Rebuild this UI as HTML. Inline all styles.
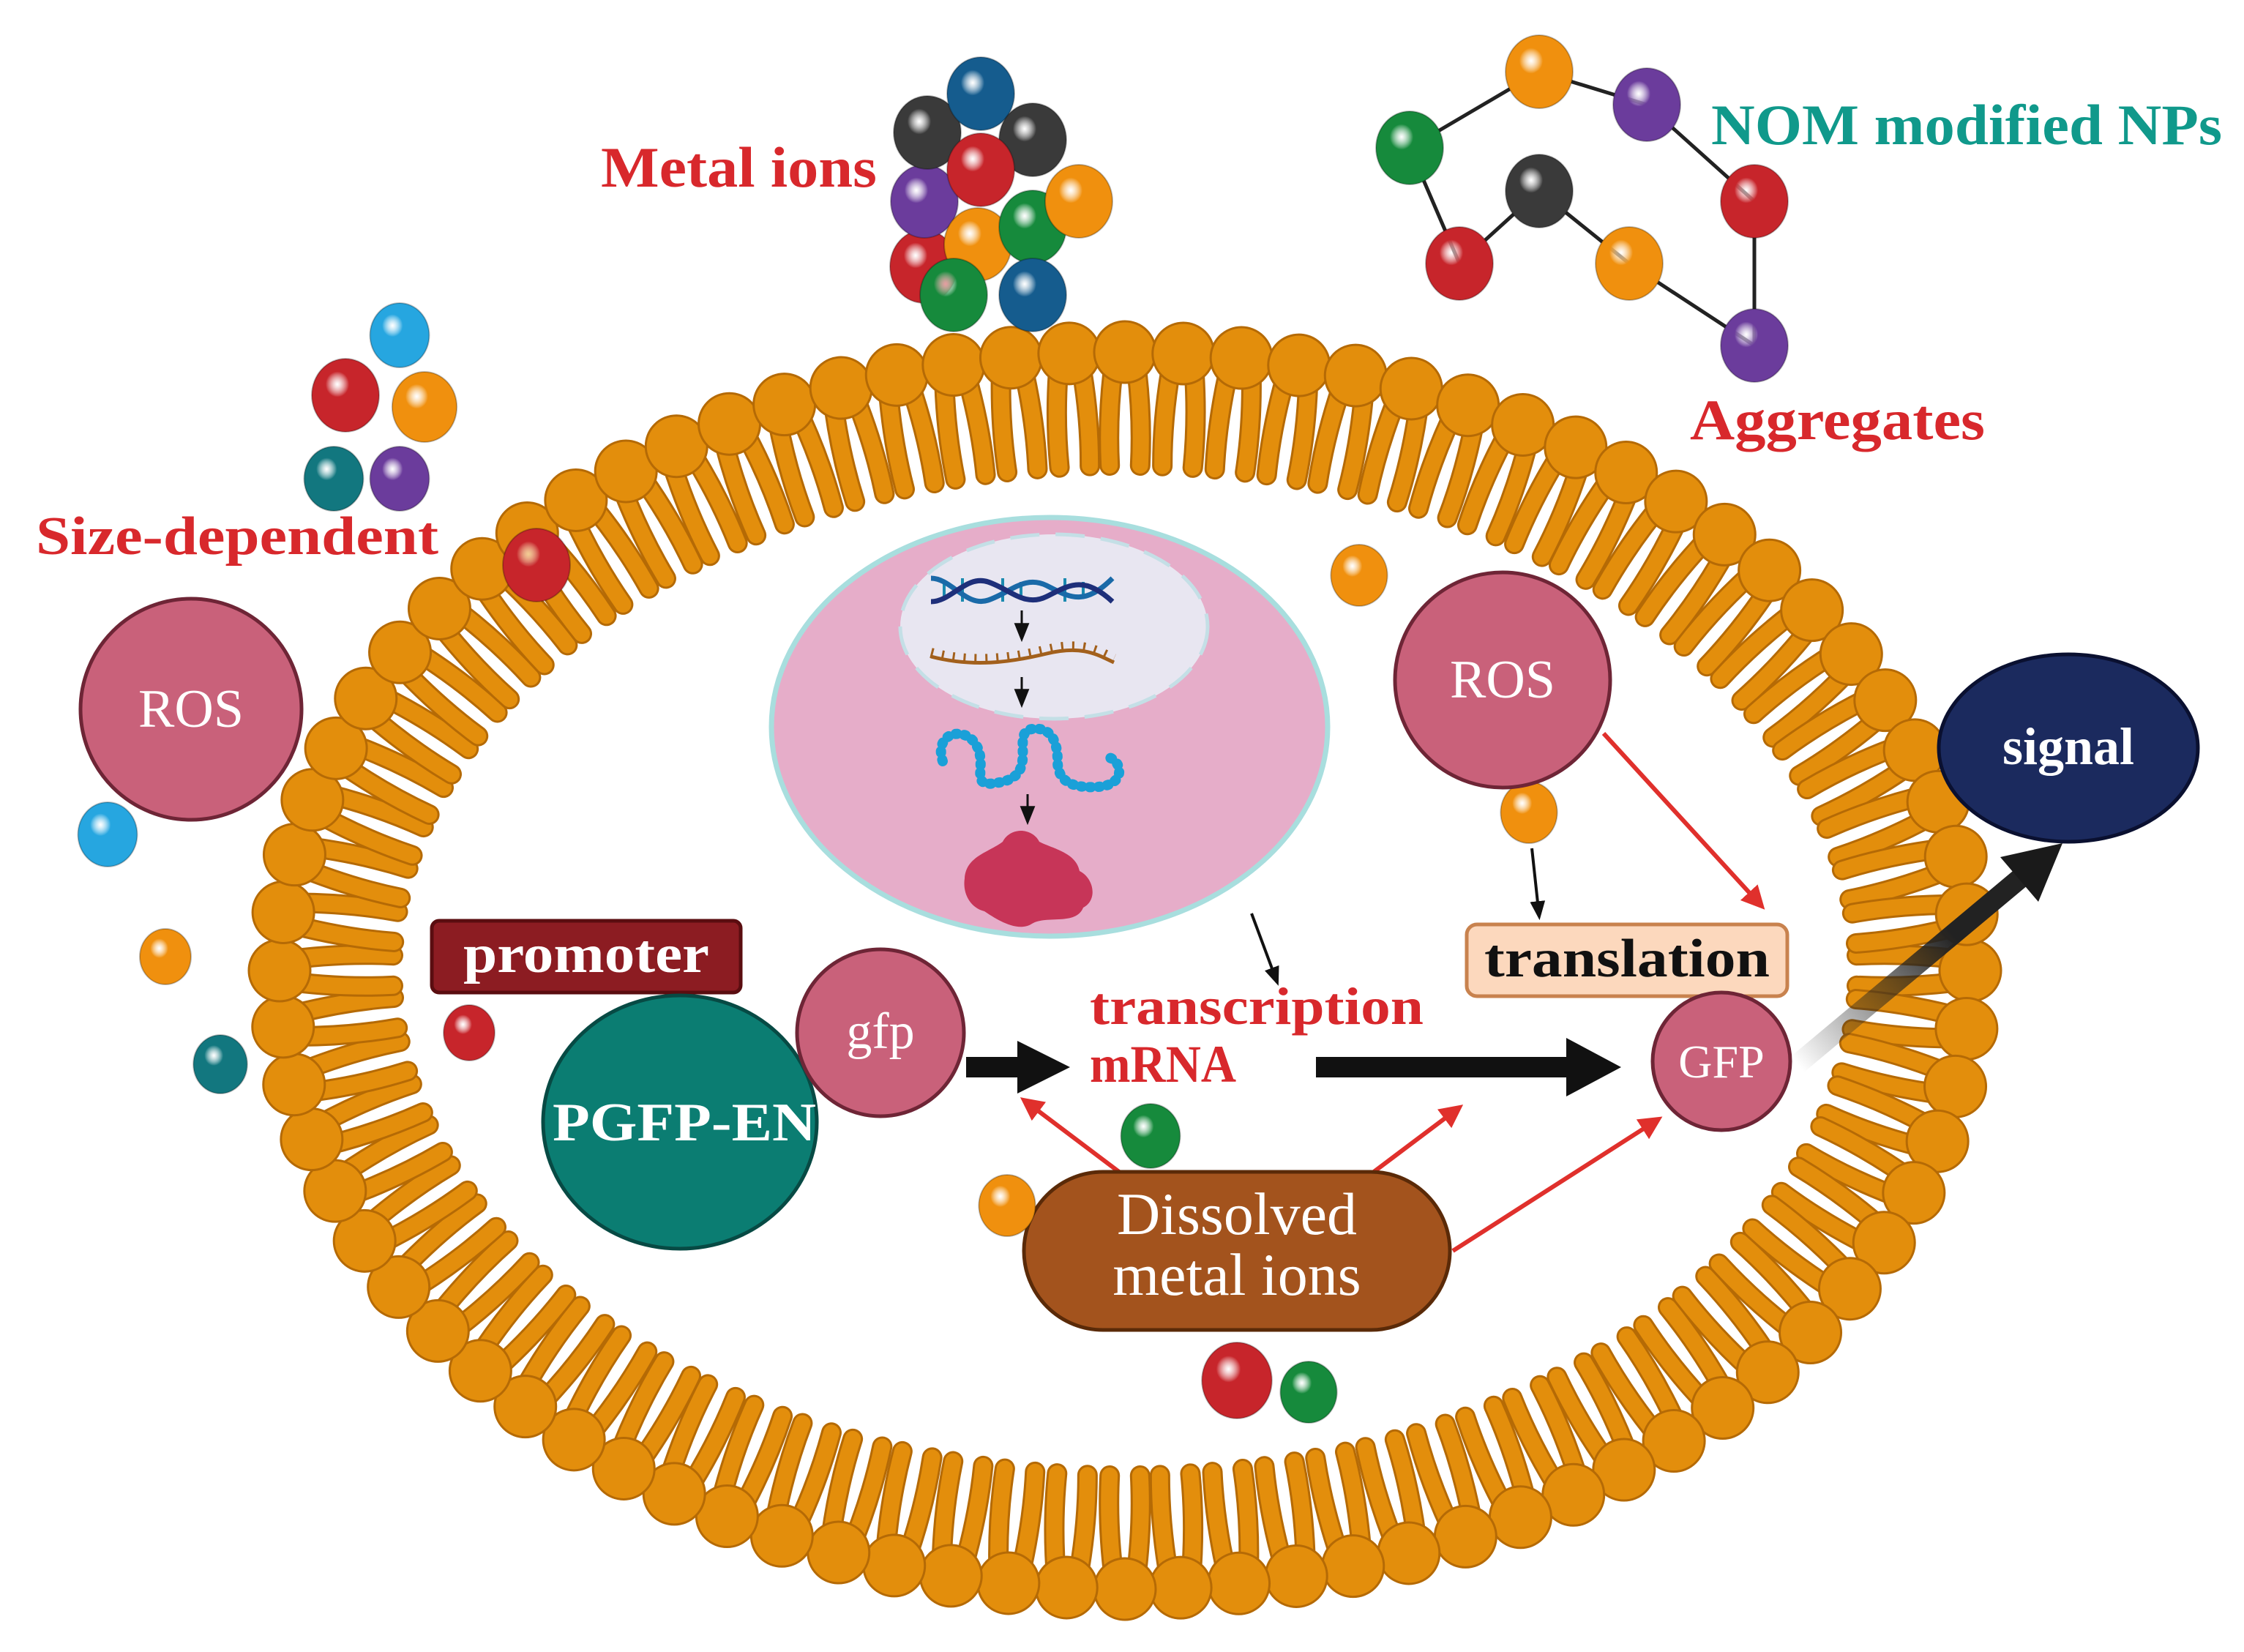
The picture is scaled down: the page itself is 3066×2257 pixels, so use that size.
<!DOCTYPE html>
<html><head><meta charset="utf-8">
<style>
html,body{margin:0;padding:0;background:#fff;}
svg{display:block;}
text{font-family:"Liberation Serif",serif;font-weight:bold;}
</style></head>
<body>
<svg id="s" xmlns="http://www.w3.org/2000/svg" width="3066" height="2257" viewBox="0 0 3066 2257">
<defs>
<marker id="ar" viewBox="0 0 10 10" refX="8" refY="5" markerWidth="32" markerHeight="32" orient="auto" markerUnits="userSpaceOnUse"><path d="M0,0 L10,5 L0,10z" fill="#e0302c"/></marker>
<marker id="ak" viewBox="0 0 10 10" refX="8" refY="5" markerWidth="26" markerHeight="26" orient="auto" markerUnits="userSpaceOnUse"><path d="M0,1 L10,5 L0,9z" fill="#111"/></marker>
<linearGradient id="fade" x1="2456" y1="1454" x2="2810" y2="1159" gradientUnits="userSpaceOnUse"><stop offset="0" stop-color="#222" stop-opacity="0"/><stop offset="0.6" stop-color="#222" stop-opacity="1"/></linearGradient>
</defs>
<g id="lip"></g>
<ellipse cx="1434" cy="993" rx="380" ry="286" fill="#e6adc9" stroke="#a8dede" stroke-width="7"/>
<ellipse cx="1440" cy="856" rx="210" ry="126" fill="#e8e6f1" stroke="#c4dfe6" stroke-width="5" stroke-dasharray="40 22"/>
<g stroke="#1a8ab0" stroke-width="4">
<line x1="1290" y1="795" x2="1290" y2="818"/><line x1="1315" y1="790" x2="1315" y2="822"/><line x1="1370" y1="790" x2="1370" y2="822"/><line x1="1395" y1="795" x2="1395" y2="818"/><line x1="1455" y1="790" x2="1455" y2="822"/><line x1="1480" y1="795" x2="1480" y2="818"/>
</g>
<path d="M1272,790 C1300,790 1320,830 1350,820 S1400,785 1430,800 S1480,830 1520,790" stroke="#1a6aa8" stroke-width="7" fill="none"/>
<path d="M1272,822 C1300,822 1320,785 1350,795 S1400,830 1430,815 S1480,785 1520,822" stroke="#1e2f7a" stroke-width="7" fill="none"/>
<line x1="1396" y1="834" x2="1396" y2="872" stroke="#111" stroke-width="3" marker-end="url(#ak)"/>
<path d="M1272,897 C1330,912 1380,905 1430,893 S1500,895 1522,905" stroke="#a2601c" stroke-width="5" fill="none"/>
<path d="M1272,897 C1330,912 1380,905 1430,893 S1500,895 1522,905" stroke="#a2601c" stroke-width="14" stroke-dasharray="3 12" fill="none" transform="translate(0,-5)"/>
<line x1="1396" y1="925" x2="1396" y2="962" stroke="#111" stroke-width="3" marker-end="url(#ak)"/>
<path d="M1288,1040 C1275,1000 1320,990 1335,1020 S1320,1080 1370,1068 S1380,1000 1410,996 S1445,1020 1445,1040 S1455,1078 1500,1075 S1530,1030 1508,1035" stroke="#1aa0d8" stroke-width="14" stroke-dasharray="2 10" stroke-linecap="round" fill="none"/>
<line x1="1404" y1="1085" x2="1404" y2="1122" stroke="#111" stroke-width="3" marker-end="url(#ak)"/>
<path d="M1318,1200 C1320,1170 1350,1165 1370,1150 C1380,1130 1410,1130 1420,1150 C1440,1160 1470,1165 1475,1190 C1495,1200 1500,1230 1480,1240 C1470,1265 1430,1250 1410,1262 C1390,1275 1360,1255 1345,1245 C1325,1240 1315,1220 1318,1200z" fill="#c73558"/>
<g stroke="#222" stroke-width="5">
<line x1="2103" y1="98" x2="1926" y2="202"/><line x1="2103" y1="98" x2="2250" y2="143"/>
<line x1="2250" y1="143" x2="2397" y2="275"/><line x1="1926" y1="202" x2="1994" y2="360"/>
<line x1="2103" y1="261" x2="1994" y2="360"/><line x1="2103" y1="261" x2="2226" y2="360"/>
<line x1="2397" y1="275" x2="2397" y2="472"/><line x1="2226" y1="360" x2="2397" y2="472"/>
</g>
<g id="sph"></g>
<text x="821" y="255" font-size="78" fill="#d8282c" textLength="377" lengthAdjust="spacingAndGlyphs">Metal ions</text>
<text x="2338" y="197" font-size="78" fill="#10998b" textLength="698" lengthAdjust="spacingAndGlyphs">NOM modified NPs</text>
<text x="2309" y="600" font-size="78" fill="#d8282c" textLength="403" lengthAdjust="spacingAndGlyphs">Aggregates</text>
<text x="49" y="757" font-size="74" fill="#d8282c" textLength="550" lengthAdjust="spacingAndGlyphs">Size-dependent</text>
<circle cx="261" cy="969" r="151" fill="#c9617a" stroke="#6e2536" stroke-width="5"/>
<text x="261" y="993" font-size="74" fill="#fff" text-anchor="middle" style="font-weight:normal">ROS</text>
<circle cx="2053" cy="929" r="147" fill="#c9617a" stroke="#6e2536" stroke-width="5"/>
<text x="2053" y="953" font-size="74" fill="#fff" text-anchor="middle" style="font-weight:normal">ROS</text>
<ellipse cx="2826" cy="1022" rx="177" ry="128" fill="#1b2a5e" stroke="#0a1030" stroke-width="5"/>
<text x="2826" y="1044" font-size="72" fill="#fff" text-anchor="middle">signal</text>
<rect x="2004" y="1263" width="438" height="98" rx="14" fill="#fcd8bd" stroke="#c8824e" stroke-width="5"/>
<text x="2223" y="1334" font-size="74" fill="#111" text-anchor="middle" textLength="390" lengthAdjust="spacingAndGlyphs">translation</text>
<rect x="590" y="1258" width="422" height="98" rx="10" fill="#8c1c22" stroke="#5a0d10" stroke-width="5"/>
<text x="801" y="1328" font-size="74" fill="#fff" text-anchor="middle" textLength="336" lengthAdjust="spacingAndGlyphs">promoter</text>
<ellipse cx="929" cy="1533" rx="187" ry="173" fill="#0b7d72" stroke="#074a44" stroke-width="5"/>
<text x="935" y="1558" font-size="74" fill="#fff" text-anchor="middle" textLength="360" lengthAdjust="spacingAndGlyphs">PGFP-EN</text>
<circle cx="1203" cy="1411" r="114" fill="#c9617a" stroke="#6e2536" stroke-width="5"/>
<text x="1203" y="1432" font-size="70" fill="#fff" text-anchor="middle" style="font-weight:normal">gfp</text>
<circle cx="2352" cy="1450" r="94" fill="#c9617a" stroke="#6e2536" stroke-width="5"/>
<text x="2352" y="1472" font-size="64" fill="#fff" text-anchor="middle" style="font-weight:normal">GFP</text>
<text x="1489" y="1399" font-size="72" fill="#d8282c" textLength="456" lengthAdjust="spacingAndGlyphs">transcription</text>
<text x="1489" y="1478" font-size="72" fill="#d8282c" textLength="200" lengthAdjust="spacingAndGlyphs">mRNA</text>
<line x1="1320" y1="1458" x2="1400" y2="1458" stroke="#111" stroke-width="28"/>
<path d="M1390,1422 L1462,1458 L1390,1494z" fill="#111"/>
<line x1="1798" y1="1458" x2="2150" y2="1458" stroke="#111" stroke-width="28"/>
<path d="M2140,1418 L2215,1458 L2140,1498z" fill="#111"/>
<line x1="2456" y1="1454" x2="2760" y2="1200" stroke="url(#fade)" stroke-width="28"/>
<path d="M2733,1171 L2818,1152 L2785,1232z" fill="#1a1a1a"/>
<g stroke="#e0302c" stroke-width="6" fill="none">
<line x1="2191" y1="1002" x2="2407" y2="1238" marker-end="url(#ar)"/>
<line x1="1529" y1="1601" x2="1399" y2="1503" marker-end="url(#ar)"/>
<line x1="1877" y1="1601" x2="1994" y2="1513" marker-end="url(#ar)"/>
<line x1="1985" y1="1709" x2="2266" y2="1529" marker-end="url(#ar)"/>
</g>
<line x1="2093" y1="1159" x2="2103" y2="1252" stroke="#111" stroke-width="4" marker-end="url(#ak)"/>
<line x1="1710" y1="1248" x2="1745" y2="1342" stroke="#111" stroke-width="4" marker-end="url(#ak)"/>
<rect x="1399" y="1601" width="582" height="216" rx="108" fill="#a3531d" stroke="#5a2a08" stroke-width="5"/>
<text x="1690" y="1686" font-size="82" fill="#fff" text-anchor="middle" style="font-weight:normal">Dissolved</text>
<text x="1690" y="1769" font-size="82" fill="#fff" text-anchor="middle" style="font-weight:normal">metal ions</text>
<g id="sph2"></g>
</svg>
<script>
var NS="http://www.w3.org/2000/svg";
function el(t,a,p){var e=document.createElementNS(NS,t);for(var k in a)e.setAttribute(k,a[k]);p.appendChild(e);return e;}
var svg=document.getElementById('s'),defs=svg.querySelector('defs');
var cols={r:"#c7252b",o:"#f0900e",p:"#6b3c9c",g:"#168a3c",k:"#3a3a3a",b:"#155c8e",l:"#26a6e0",t:"#12777f"};
for(var c in cols){var g=el('radialGradient',{id:'g'+c,cx:'0.38',cy:'0.35',r:'0.7'},defs);
el('stop',{offset:'0','stop-color':'#fff','stop-opacity':'0.55'},g);
el('stop',{offset:'0.25','stop-color':cols[c]},g);
el('stop',{offset:'1','stop-color':cols[c]},g);}
var L=document.getElementById('lip');
var cx=1537,cy=1326,rx=1155,ry=845,N=80;
var pts=[],acc=[0],M=2000;
for(var i=0;i<=M;i++){var t=i/M*2*Math.PI;pts.push([cx+rx*Math.cos(t),cy+ry*Math.sin(t)]);if(i>0){acc.push(acc[i-1]+Math.hypot(pts[i][0]-pts[i-1][0],pts[i][1]-pts[i-1][1]));}}
var tot=acc[M],heads=[];
for(var n=0;n<N;n++){var target=n/N*tot,j=0;while(acc[j]<target)j++;var t=j/M*2*Math.PI;
var x=cx+rx*Math.cos(t),y=cy+ry*Math.sin(t);
var nx=Math.cos(t)/rx,ny=Math.sin(t)/ry,ln=Math.hypot(nx,ny);nx/=ln;ny/=ln;
heads.push([x,y,nx,ny]);}
heads.forEach(function(h){var x=h[0],y=h[1],nx=h[2],ny=h[3],tx=-ny,ty=nx;
[-13,13].forEach(function(o){
var x1=x+tx*o,y1=y+ty*o,x2=x-nx*155+tx*o*1.6,y2=y-ny*155+ty*o*1.6;
var mx=x-nx*80+tx*(o*1.3+o*0.6),my=y-ny*80+ty*(o*1.3+o*0.6);
var d="M"+x1+","+y1+" Q"+mx+","+my+" "+x2+","+y2;
el('path',{d:d,stroke:'#b56a05','stroke-width':28,'stroke-linecap':'round',fill:'none'},L);
el('path',{d:d,stroke:'#e38e0c','stroke-width':22,'stroke-linecap':'round',fill:'none'},L);});});
heads.forEach(function(h){el('circle',{cx:h[0],cy:h[1],r:42,fill:'#e38e0c',stroke:'#b56a05','stroke-width':3},L);});
function sp(p,c,x,y,r){el('ellipse',{cx:x,cy:y,rx:r*0.92,ry:r,fill:'url(#g'+c+')',stroke:'#00000040','stroke-width':2},p);}
var S=document.getElementById('sph');
[["r",1262,364],["p",1263,275],["o",1336,334],["k",1267,181],["b",1340,128],["k",1411,191],["r",1340,232],["g",1411,310],["o",1474,275],["g",1303,403],["b",1411,403]].forEach(function(a){sp(S,a[0],a[1],a[2],50);});
[["o",2103,98],["p",2250,143],["g",1926,202],["k",2103,261],["r",2397,275],["r",1994,360],["o",2226,360],["p",2397,472]].forEach(function(a){sp(S,a[0],a[1],a[2],50);});
[["l",546,458,44],["r",472,540,50],["o",580,556,48],["t",456,654,44],["p",546,654,44],["r",733,772,50],["o",1857,786,42],["l",147,1140,44],["o",226,1307,38],["t",301,1454,40],["r",641,1411,38],["o",2089,1110,42]].forEach(function(a){sp(S,a[0],a[1],a[2],a[3]);});
var S2=document.getElementById('sph2');
[["g",1572,1552,44],["o",1376,1647,42],["r",1690,1886,52],["g",1788,1902,42]].forEach(function(a){sp(S2,a[0],a[1],a[2],a[3]);});
</script>
</body></html>
